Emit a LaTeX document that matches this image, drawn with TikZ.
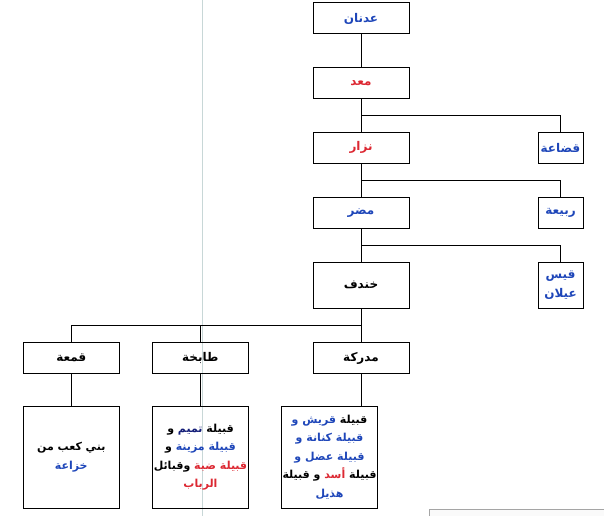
\documentclass[tikz,border=0pt]{standalone}
\usepackage{fontspec}
\newfontfamily\arabicfont[Script=Arabic]{DejaVu Sans}
\TeXXeTstate=1
\newcommand{\AR}[1]{\beginR #1\endR}
\definecolor{arblue}{RGB}{30,70,185}
\definecolor{arnavy}{RGB}{20,30,120}
\definecolor{arred}{RGB}{220,40,50}
\definecolor{guide}{RGB}{200,215,215}
\definecolor{framegray}{RGB}{165,165,165}
\begin{document}
\begin{tikzpicture}[x=1pt,y=-1pt,
  box/.style={draw=black,line width=1pt,rectangle,inner sep=0pt,align=center,
    font=\arabicfont\bfseries\fontsize{12}{19}\selectfont},
  wide/.style={box,minimum width=96pt,minimum height=31pt},
  small/.style={box,minimum width=45pt,minimum height=31pt},
  tall/.style={box,minimum width=96pt,minimum height=102pt,
    font=\arabicfont\bfseries\fontsize{11}{18.5}\selectfont},
  link/.style={draw=black,line width=1pt}]
\useasboundingbox (0,0) rectangle (604,516);
% page guide lines of the screenshot
\draw[guide,line width=1pt] (202,0) -- (202,516);
\fill[black!2] (429.3,509.3) rectangle (604,516);
\draw[framegray,line width=1pt] (429.3,516) -- (429.3,509.3) -- (604,509.3);
% nodes
\node[wide] (adnan) at (361,18.5) {\color{arblue}\AR{عدنان}};
\node[wide] (maad) at (361,82.7) {\color{arred}\AR{معد}};
\node[wide] (nizar) at (361,147.8) {\color{arred}\AR{نزار}};
\node[small] (qudaa) at (560.5,147.8) {\color{arblue}\AR{قضاعة}};
\node[wide] (mudar) at (361,212.8) {\color{arblue}\AR{مضر}};
\node[small] (rabia) at (560.5,212.8) {\color{arblue}\AR{ربيعة}};
\node[wide,minimum height=46pt] (khindif) at (361,285.3) {\AR{خندف}};
\node[small,minimum height=46pt] (qays) at (560.5,285.3) {\color{arblue}\AR{قيس}\\\color{arblue}\AR{عيلان}};
\node[wide] (mudrika) at (361,358) {\AR{مدركة}};
\node[wide] (tabikha) at (200.3,358) {\AR{طابخة}};
\node[wide] (qamaa) at (71.3,358) {\AR{قمعة}};
\node[tall] (kids1) at (71.3,457.3) {\AR{بني كعب من}\\\color{arblue}\AR{خزاعة}};
\node[tall] (kids2) at (200.5,457.2) {%
  \AR{و} {\color{arnavy}\AR{تميم}} \AR{قبيلة}\\
  \AR{و} {\color{arblue}\AR{قبيلة مزينة}}\\
  \AR{وقبائل} {\color{arred}\AR{قبيلة ضبة}}\\
  {\color{arred}\AR{الرباب}}};
\node[tall] (kids3) at (329.5,457.2) {%
  {\color{arblue}\AR{قريش و}} \AR{قبيلة}\\
  {\color{arblue}\AR{قبيلة كنانة و}}\\
  {\color{arblue}\AR{قبيلة عضل و}}\\
  \AR{و قبيلة} {\color{arred}\AR{أسد}} \AR{قبيلة}\\
  {\color{arblue}\AR{هذيل}}};
% junctions
\coordinate (j1) at (361,115.3);
\coordinate (j2) at (361,180.3);
\coordinate (j3) at (361,245.3);
\coordinate (j4) at (361,325.3);
% connectors
\path[link] (adnan.south) -- (maad.north);
\path[link] (maad.south) -- (nizar.north);
\path[link] (j1) -| (qudaa.north);
\path[link] (nizar.south) -- (mudar.north);
\path[link] (j2) -| (rabia.north);
\path[link] (mudar.south) -- (khindif.north);
\path[link] (j3) -| (qays.north);
\path[link] (khindif.south) -- (mudrika.north);
\path[link] (j4) -| (qamaa.north);
\path[link] (j4 -| tabikha.north) -- (tabikha.north);
\path[link] (mudrika.south) -- (mudrika.south |- kids3.north);
\path[link] (tabikha.south) -- (tabikha.south |- kids2.north);
\path[link] (qamaa.south) -- (kids1.north);
\end{tikzpicture}
\end{document}
